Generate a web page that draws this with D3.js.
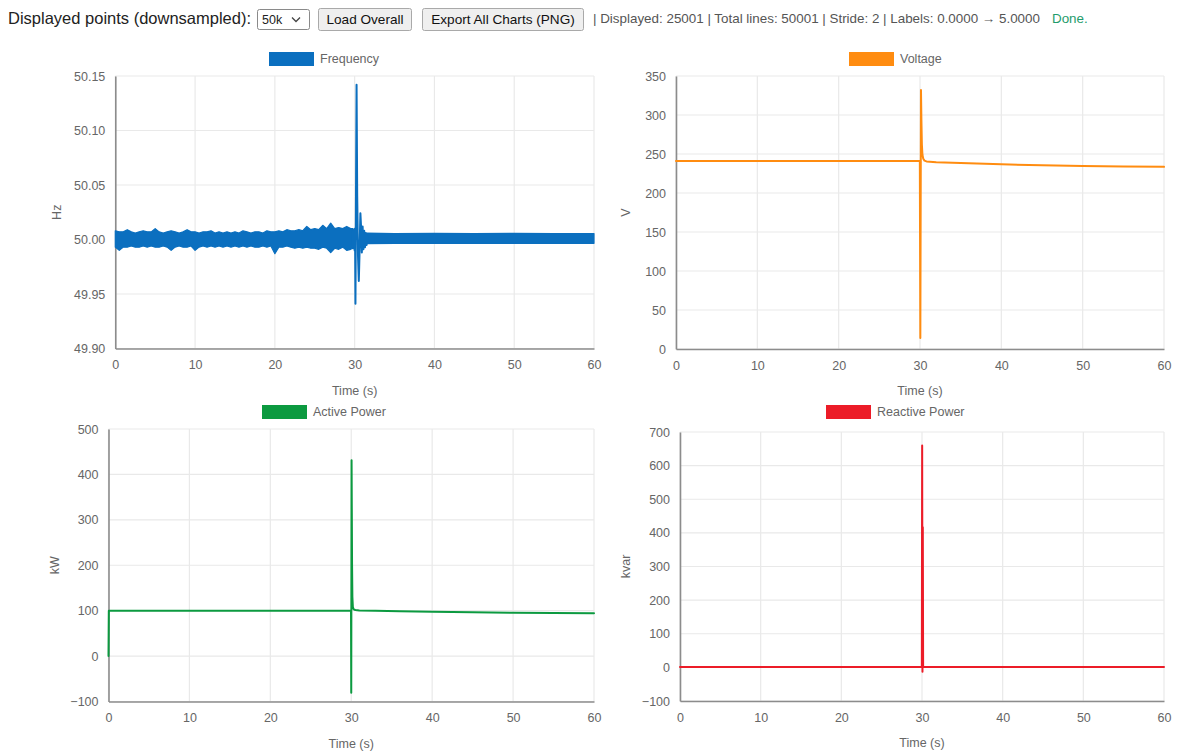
<!DOCTYPE html>
<html>
<head>
<meta charset="utf-8">
<script src="https://cdn.jsdelivr.net/npm/d3@7"></script>
<style>
  body { margin: 0; background: #fff; }
  svg { display: block; font-family: "Liberation Sans", Arial, Helvetica, sans-serif; }
</style>
</head>
<body>
<svg id="page" width="1177" height="752"></svg>
<script>
// ---------- shared axis ticks ----------
const timeTicks = [0, 10, 20, 30, 40, 50, 60];
const freqTicks = [49.90, 49.95, 50.00, 50.05, 50.10, 50.15];
const voltTicks = [0, 50, 100, 150, 200, 250, 300, 350];
const activeTicks = [-100, 0, 100, 200, 300, 400, 500];
const reactiveTicks = [-100, 0, 100, 200, 300, 400, 500, 600, 700];

// ---------- frequency (Hz) ----------
// noisy pre-event band: min/max envelope sampled every 0.5 s
const freqNoiseTime = [0, 0.5, 1, 1.5, 2, 2.5, 3, 3.5, 4, 4.5, 5, 5.5, 6, 6.5, 7, 7.5, 8, 8.5, 9, 9.5,
  10, 10.5, 11, 11.5, 12, 12.5, 13, 13.5, 14, 14.5, 15, 15.5, 16, 16.5, 17, 17.5, 18, 18.5, 19, 19.5,
  20, 20.5, 21, 21.5, 22, 22.5, 23, 23.5, 24, 24.5, 25, 25.5, 26, 26.5, 27, 27.5, 28, 28.5, 29, 29.5, 29.8];
const freqNoiseHigh = [50.008, 50.007, 50.007, 50.009, 50.007, 50.006, 50.007, 50.008, 50.007, 50.007,
  50.010, 50.007, 50.006, 50.007, 50.008, 50.007, 50.006, 50.007, 50.009, 50.007,
  50.007, 50.006, 50.007, 50.007, 50.008, 50.006, 50.007, 50.006, 50.007, 50.006,
  50.007, 50.006, 50.008, 50.007, 50.006, 50.007, 50.007, 50.006, 50.008, 50.007,
  50.007, 50.008, 50.007, 50.009, 50.008, 50.008, 50.009, 50.008, 50.012, 50.009,
  50.010, 50.009, 50.013, 50.010, 50.015, 50.010, 50.011, 50.010, 50.012, 50.010, 50.010];
const freqNoiseLow = [49.993, 49.990, 49.993, 49.993, 49.994, 49.993, 49.993, 49.994, 49.993, 49.994,
  49.993, 49.993, 49.994, 49.993, 49.990, 49.993, 49.994, 49.993, 49.993, 49.994,
  49.990, 49.993, 49.994, 49.993, 49.994, 49.993, 49.994, 49.993, 49.994, 49.993,
  49.994, 49.993, 49.994, 49.993, 49.994, 49.993, 49.993, 49.994, 49.993, 49.994,
  49.987, 49.993, 49.993, 49.994, 49.993, 49.992, 49.993, 49.992, 49.993, 49.992,
  49.992, 49.991, 49.993, 49.992, 49.988, 49.992, 49.991, 49.993, 49.990, 49.991, 49.992];
// fault transient around t = 30 s
const freqEventTime = [29.7, 29.8, 29.9, 30.0, 30.05, 30.1, 30.18, 30.24, 30.32, 30.42, 30.52, 30.62,
  30.72, 30.8, 30.9, 31.0, 31.1, 31.2, 31.3, 31.4, 31.5, 31.6];
const freqEventValue = [50.007, 49.992, 50.009, 49.990, 50.010, 49.941, 50.060, 50.142, 50.040, 49.985,
  49.962, 49.990, 50.024, 50.012, 49.988, 50.012, 49.991, 50.008, 49.993, 50.006, 49.995, 50.003];
// settled post-event band
const freqSettledTime = [31.5, 35, 40, 45, 50, 55, 60];
const freqSettledHigh = [50.0058, 50.0055, 50.0056, 50.0055, 50.0056, 50.0055, 50.0055];
const freqSettledLow = [49.9963, 49.9965, 49.9964, 49.9965, 49.9964, 49.9965, 49.9965];

// ---------- voltage (V) ----------
const voltTime = [0, 10, 20, 29.98, 30.04, 30.12, 30.17, 30.23, 30.3, 30.4, 30.55, 30.8, 32, 35, 40, 45, 50, 55, 60];
const voltValue = [241, 241, 241, 241, 14, 332, 295, 262, 249, 244, 241.5, 240.5, 239.5, 238.5, 236.8, 235.5, 234.6, 234, 233.5];

// ---------- active power (kW) ----------
const activeTime = [0, 0.04, 5, 15, 25, 29.97, 30.0, 30.04, 30.07, 30.1, 30.14, 30.2, 30.3, 30.5, 31, 33, 36, 40, 45, 50, 55, 60];
const activeValue = [0, 100, 100, 100, 100, 100, -81, 431, 316, 200, 130, 108, 103, 101.5, 100.5, 99.8, 98.8, 97.5, 96.5, 95.5, 94.8, 94.5];

// ---------- reactive power (kvar) ----------
const reactiveTime = [0, 10, 20, 29.98, 30.02, 30.06, 30.1, 30.14, 30.2, 40, 50, 60];
const reactiveValue = [1, 1, 1, 1, 660, -13, 417, 1, 1, 1, 1, 1];

// ---------- toolbar text ----------
const statusText = "| Displayed: 25001 | Total lines: 50001 | Stride: 2 | Labels: 0.0000 \u2192 5.0000";

const svg = d3.select("#page");

// ---------- toolbar ----------
const bar = svg.append("g");
bar.append("text").attr("x", 8).attr("y", 24).attr("font-size", 16.5).attr("fill", "#222")
  .text("Displayed points (downsampled):");

bar.append("rect").attr("x", 257.5).attr("y", 9.5).attr("width", 52).attr("height", 20).attr("rx", 2)
  .attr("fill", "#fff").attr("stroke", "#8a8a8a");
bar.append("text").attr("x", 262).attr("y", 24).attr("font-size", 12.5).attr("fill", "#222").text("50k");
bar.append("path").attr("d", "M292,17.5 L296,21.5 L300,17.5").attr("fill", "none").attr("stroke", "#444").attr("stroke-width", 1.3);

function button(x, w, label) {
  bar.append("rect").attr("x", x + 0.5).attr("y", 8.5).attr("width", w).attr("height", 22).attr("rx", 2)
    .attr("fill", "#efefef").attr("stroke", "#a9a9a9");
  bar.append("text").attr("x", x + w / 2 + 0.5).attr("y", 24).attr("text-anchor", "middle")
    .attr("font-size", 13.6).attr("fill", "#111").text(label);
}
button(318, 93, "Load Overall");
button(422, 161, "Export All Charts (PNG)");

bar.append("text").attr("x", 593).attr("y", 23).attr("font-size", 13.4).attr("fill", "#555").text(statusText);
bar.append("text").attr("x", 1052).attr("y", 23).attr("font-size", 13.4).attr("fill", "#1f9c6c").text("Done.");

// ---------- chart panels ----------
const panels = [
  { label: "Frequency", unit: "Hz", color: "#0b6fbf", ticks: freqTicks, fmt: d3.format(".2f"),
    left: 115.3, right: 594, top: 76, bottom: 348.5, legendX: 269, legendY: 52, unitX: 57 },
  { label: "Voltage", unit: "V", color: "#ff8c10", ticks: voltTicks, fmt: d3.format("d"),
    left: 676, right: 1164, top: 76, bottom: 349, legendX: 849, legendY: 52, unitX: 626 },
  { label: "Active Power", unit: "kW", color: "#0c9a40", ticks: activeTicks, fmt: d3.format("d"),
    left: 108.5, right: 594, top: 429, bottom: 701.5, legendX: 262, legendY: 405, unitX: 55 },
  { label: "Reactive Power", unit: "kvar", color: "#ec1c28", ticks: reactiveTicks, fmt: d3.format("d"),
    left: 680, right: 1164, top: 432, bottom: 701, legendX: 826, legendY: 405, unitX: 626 }
];

panels.forEach(p => {
  p.x = d3.scaleLinear().domain([0, 60]).range([p.left, p.right]);
  p.y = d3.scaleLinear().domain(d3.extent(p.ticks)).range([p.bottom, p.top]);
  const g = svg.append("g");
  p.g = g;

  // grid
  const grid = g.append("g").attr("stroke", "#e9e9e9").attr("stroke-width", 1.2);
  timeTicks.forEach(t => grid.append("line").attr("x1", p.x(t)).attr("x2", p.x(t))
    .attr("y1", p.top).attr("y2", p.bottom));
  p.ticks.forEach(v => grid.append("line").attr("x1", p.left).attr("x2", p.right)
    .attr("y1", p.y(v)).attr("y2", p.y(v)));

  // axes: labels via d3 axis generators, domain lines as left/bottom frame
  const yAxis = d3.axisLeft(p.y).tickValues(p.ticks).tickFormat(p.fmt).tickSize(0).tickPadding(10);
  const yg = g.append("g").attr("transform", `translate(${p.left},0)`).call(yAxis);
  const xAxis = d3.axisBottom(p.x).tickValues(timeTicks).tickFormat(d3.format("d")).tickSize(0).tickPadding(12);
  const xg = g.append("g").attr("transform", `translate(0,${p.bottom})`).call(xAxis);
  [yg, xg].forEach(a => {
    a.select(".domain").attr("stroke", "#8c8c8c").attr("stroke-width", 1.6);
    a.selectAll("text").attr("font-size", 12.5).attr("fill", "#666")
      .attr("font-family", "'Liberation Sans', Arial, sans-serif");
  });

  // axis titles
  g.append("text").attr("x", (p.left + p.right) / 2).attr("y", p.bottom + 46)
    .attr("text-anchor", "middle").attr("font-size", 12.5).attr("fill", "#666").text("Time (s)");
  g.append("text").attr("transform", `translate(${p.unitX},${(p.top + p.bottom) / 2}) rotate(-90)`)
    .attr("text-anchor", "middle").attr("dy", "0.35em").attr("font-size", 12.5).attr("fill", "#666").text(p.unit);

  // legend
  g.append("rect").attr("x", p.legendX).attr("y", p.legendY).attr("width", 45).attr("height", 14)
    .attr("fill", p.color);
  g.append("text").attr("x", p.legendX + 51).attr("y", p.legendY + 7).attr("dy", "0.35em")
    .attr("font-size", 12.5).attr("fill", "#666").text(p.label);
});

// ---------- series ----------
const [pf, pv, pa, pr] = panels;

function lineOf(p, times, values, width) {
  const line = d3.line().x(d => p.x(d[0])).y(d => p.y(d[1]));
  p.g.append("path").datum(d3.zip(times, values)).attr("d", line)
    .attr("fill", "none").attr("stroke", p.color).attr("stroke-width", width)
    .attr("stroke-linejoin", "round").attr("stroke-linecap", "round");
}

// dense oscillation drawn as its min/max envelope per sample bucket
function bandOf(p, times, lows, highs) {
  const area = d3.area().x(d => p.x(d[0])).y0(d => p.y(d[1])).y1(d => p.y(d[2]));
  p.g.append("path").datum(d3.zip(times, lows, highs)).attr("d", area)
    .attr("fill", p.color).attr("stroke", p.color).attr("stroke-width", 1.2).attr("stroke-linejoin", "round");
}

bandOf(pf, freqNoiseTime, freqNoiseLow, freqNoiseHigh);
bandOf(pf, freqSettledTime, freqSettledLow, freqSettledHigh);
lineOf(pf, freqEventTime, freqEventValue, 2);

lineOf(pv, voltTime, voltValue, 2);
lineOf(pa, activeTime, activeValue, 2);
lineOf(pr, reactiveTime, reactiveValue, 2);
</script>
</body>
</html>
